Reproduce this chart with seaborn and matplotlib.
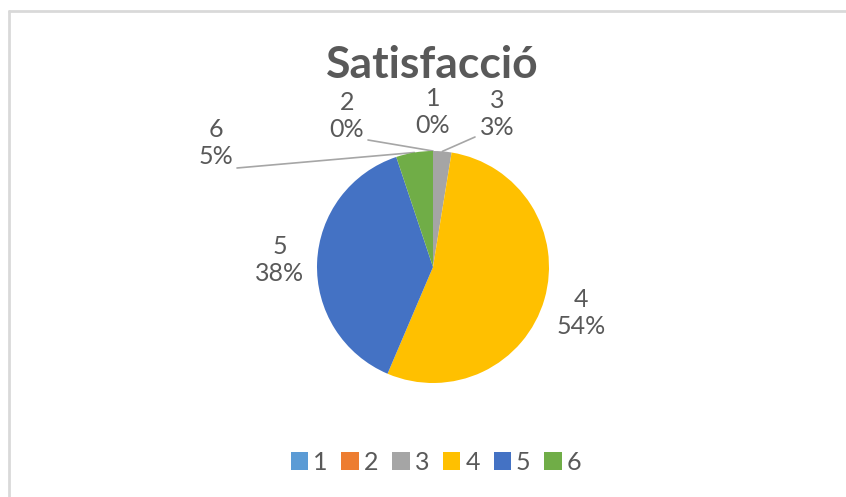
import numpy as np
import matplotlib
matplotlib.use("Agg")
import matplotlib.pyplot as plt
from matplotlib.lines import Line2D
from matplotlib.patches import Patch
import seaborn as sns

# valors llegits del gràfic (respostes per puntuació)
categories = ["1", "2", "3", "4", "5", "6"]
counts = [0, 0, 1, 21, 15, 2]
title = "Satisfacció"

colors = sns.color_palette(["#5B9BD5", "#ED7D31", "#A5A5A5", "#FFC000", "#4472C4", "#70AD47"])

sns.set_theme(style="white")
plt.rcParams['font.family'] = ['Lato', 'DejaVu Sans']

W, H = 846, 497
text_col = "#595959"

fig = plt.figure(figsize=(W / 100, H / 100), dpi=100)
ax = fig.add_axes([0, 0, 1, 1])

def py(y):
    return H - y

cx, cy, r = 433, py(267), 116
ax.pie(counts, colors=colors, startangle=90, counterclock=False,
       center=(cx, cy), radius=r, wedgeprops=dict(linewidth=0), frame=True)
ax.set_xlim(0, W)
ax.set_ylim(0, H)
ax.set_aspect("equal")
ax.axis("off")

total = sum(counts)
# posició de cada etiqueta (px) i punt on arrenca la línia guia
label_pos = {"1": (433, 112), "2": (347, 116), "3": (497, 114),
             "4": (581, 313), "5": (280, 260), "6": (216, 143)}
leader_from = {"2": (368, 140), "3": (475, 137), "6": (237, 168)}

cum = 0
for cat, v in zip(categories, counts):
    mid = cum + v / 2
    cum += v
    pct = round(v / total * 100)
    lx, ly = label_pos[cat]
    ax.text(lx, py(ly), f"{cat}\n{pct}%", ha="center", va="center",
            fontsize=18, color=text_col, linespacing=1.25)
    if cat in leader_from:
        theta = np.deg2rad(90 - 360 * mid / total)
        ex, ey = cx + r * np.cos(theta), cy + r * np.sin(theta)
        sx, sy = leader_from[cat]
        ax.plot([sx, ex], [py(sy), ey], color="#A6A6A6", lw=1.2, zorder=0)

fig.text(432 / W, 1 - 78 / H, title, ha="center", va="baseline",
         fontsize=32, fontweight="bold", color=text_col)

handles = [Patch(facecolor=c, edgecolor="none") for c in colors]
fig.legend(handles, categories, loc="center", bbox_to_anchor=(436 / W, 1 - 462 / H),
           ncol=6, frameon=False, fontsize=18, labelcolor=text_col,
           handlelength=0.7, handleheight=0.7, handletextpad=0.2, columnspacing=0.55)

# vora del gràfic
fig.add_artist(Line2D([9 / W, 1], [1 - 11 / H, 1 - 11 / H], color="#D9D9D9", lw=2))
fig.add_artist(Line2D([9 / W, 9 / W], [0, 1 - 11 / H], color="#D9D9D9", lw=2))

fig.savefig("out.png", dpi=100)
